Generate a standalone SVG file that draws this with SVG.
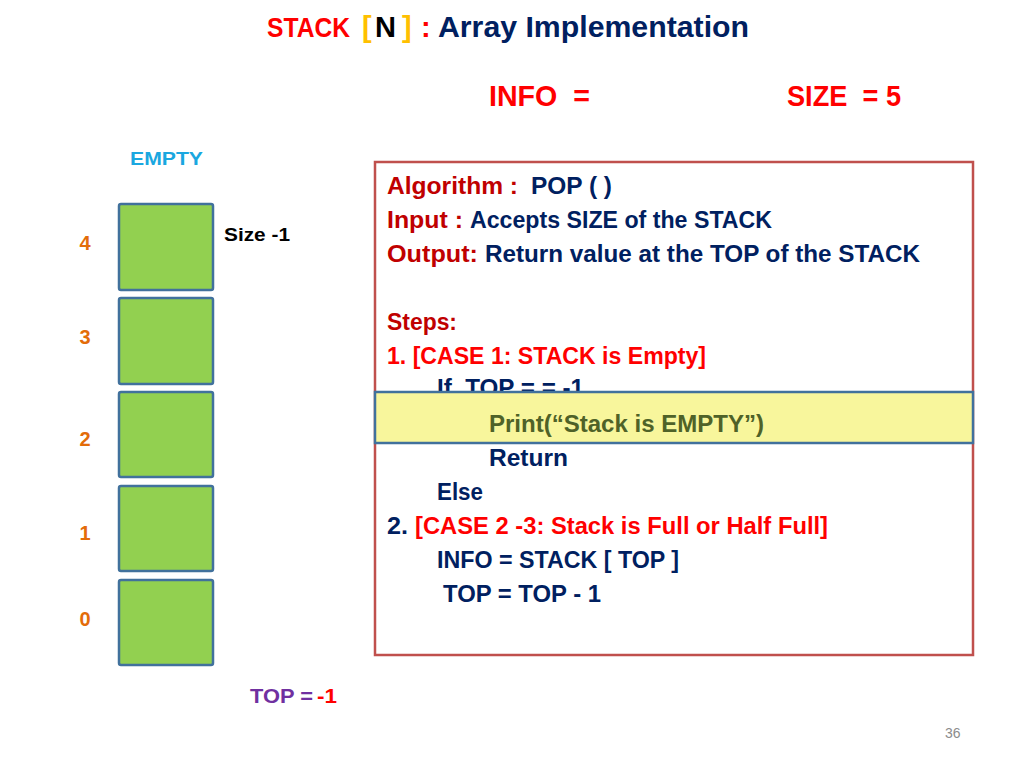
<svg xmlns="http://www.w3.org/2000/svg" width="1024" height="768" viewBox="0 0 1024 768">
<style>
text{font-family:"Liberation Sans",Arial,sans-serif;font-weight:bold;white-space:pre}
.t{font-size:29px}
.h{font-size:30px;fill:#ff0000}
.a{font-size:23px}
.dr{fill:#c00000}
.nv{fill:#002060}
.rd{fill:#ff0000}
.ol{fill:#4f6228}
.idx{font-size:20px;fill:#e36c09;text-anchor:middle}
.cell{fill:#92d050;stroke:#41719c;stroke-width:2.5}
</style>
<rect width="1024" height="768" fill="#ffffff"/>
<g id="title">
<text class="rd" x="267" y="37" font-size="27" textLength="83" lengthAdjust="spacingAndGlyphs">STACK</text>
<text class="t" x="362" y="37" fill="#ffc000">[</text>
<text class="t" x="375" y="37" fill="#000000" textLength="21" lengthAdjust="spacingAndGlyphs">N</text>
<text class="t" x="402" y="37" fill="#ffc000">]</text>
<text class="t rd" x="421" y="37">:</text>
<text class="t nv" x="438" y="37" textLength="311" lengthAdjust="spacingAndGlyphs">Array Implementation</text>
</g>
<g id="info">
<text class="h" x="489" y="106" textLength="101" lengthAdjust="spacingAndGlyphs">INFO  =</text>
</g>
<g id="size">
<text class="h" x="787" y="106" textLength="114" lengthAdjust="spacingAndGlyphs">SIZE  = 5</text>
</g>
<g id="empty-label">
<text x="130" y="165" font-size="19" fill="#1aa7e0" textLength="73" lengthAdjust="spacingAndGlyphs">EMPTY</text>
</g>
<g id="stack">
<g id="cell-4"><rect class="cell" x="119" y="204" width="94" height="86" rx="2"/><text class="idx" x="85" y="250">4</text></g>
<g id="cell-3"><rect class="cell" x="119" y="298" width="94" height="86" rx="2"/><text class="idx" x="85" y="344">3</text></g>
<g id="cell-2"><rect class="cell" x="119" y="392" width="94" height="85" rx="2"/><text class="idx" x="85" y="446">2</text></g>
<g id="cell-1"><rect class="cell" x="119" y="486" width="94" height="85" rx="2"/><text class="idx" x="85" y="540">1</text></g>
<g id="cell-0"><rect class="cell" x="119" y="580" width="94" height="85" rx="2"/><text class="idx" x="85" y="626">0</text></g>
</g>
<g id="size-minus-1">
<text x="224" y="241" font-size="19" fill="#000000" textLength="66" lengthAdjust="spacingAndGlyphs">Size -1</text>
</g>
<g id="top-label">
<text x="250" y="703" font-size="20" fill="#7030a0" textLength="63" lengthAdjust="spacingAndGlyphs">TOP =</text>
<text x="317" y="703" font-size="20" class="rd" textLength="20" lengthAdjust="spacingAndGlyphs">-1</text>
</g>
<g id="algorithm">
<rect x="375" y="162" width="598" height="493" fill="#ffffff" stroke="#c0504d" stroke-width="2.5"/>
<text class="a dr" x="387" y="194" textLength="131" lengthAdjust="spacingAndGlyphs">Algorithm :</text>
<text class="a nv" x="531" y="194" textLength="81" lengthAdjust="spacingAndGlyphs">POP ( )</text>
<text class="a dr" x="387" y="228" textLength="76" lengthAdjust="spacingAndGlyphs">Input :</text>
<text class="a nv" x="470" y="228" textLength="302" lengthAdjust="spacingAndGlyphs">Accepts SIZE of the STACK</text>
<text class="a dr" x="387" y="262" textLength="91" lengthAdjust="spacingAndGlyphs">Output:</text>
<text class="a nv" x="485" y="262" textLength="435" lengthAdjust="spacingAndGlyphs">Return value at the TOP of the STACK</text>
<text class="a dr" x="387" y="330" textLength="70" lengthAdjust="spacingAndGlyphs">Steps:</text>
<text class="a rd" x="387" y="364" textLength="319" lengthAdjust="spacingAndGlyphs">1. [CASE 1: STACK is Empty]</text>
<text class="a nv" x="437" y="396" textLength="147" lengthAdjust="spacingAndGlyphs">If  TOP = = -1</text>
</g>
<g id="highlight">
<rect x="375" y="392" width="598" height="51" fill="#f8f69c" stroke="#41719c" stroke-width="2.5"/>
<text class="a ol" x="489" y="432" textLength="275" lengthAdjust="spacingAndGlyphs">Print(“Stack is EMPTY”)</text>
</g>
<g id="algorithm-rest">
<text class="a nv" x="489" y="466" textLength="79" lengthAdjust="spacingAndGlyphs">Return</text>
<text class="a nv" x="437" y="500" textLength="46" lengthAdjust="spacingAndGlyphs">Else</text>
<text class="a nv" x="387" y="534" textLength="21" lengthAdjust="spacingAndGlyphs">2.</text>
<text class="a rd" x="415" y="534" textLength="413" lengthAdjust="spacingAndGlyphs">[CASE 2 -3: Stack is Full or Half Full]</text>
<text class="a nv" x="437" y="568" textLength="242" lengthAdjust="spacingAndGlyphs">INFO = STACK [ TOP ]</text>
<text class="a nv" x="443" y="602" textLength="158" lengthAdjust="spacingAndGlyphs">TOP = TOP - 1</text>
</g>
<g id="connectors"></g>
<g id="page-number">
<text x="945" y="738" font-size="14" fill="#8c8c8c" style="font-weight:normal">36</text>
</g>
</svg>
